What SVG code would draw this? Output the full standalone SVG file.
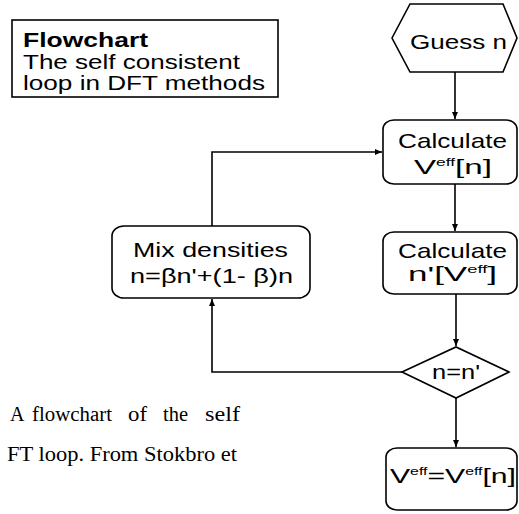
<svg xmlns="http://www.w3.org/2000/svg" width="519" height="514" viewBox="0 0 519 514">
<defs>
<marker id="ah" markerWidth="8" markerHeight="8" refX="7" refY="4" orient="auto" markerUnits="userSpaceOnUse">
<path d="M0,1 L7,4 L0,7 Z" fill="#000"/>
</marker>
<style>
.box{fill:#fff;stroke:#000;stroke-width:1.6}
.t{font-family:"Liberation Sans",Arial,sans-serif;font-size:21px;fill:#000}
.tt{font-family:"Liberation Sans",Arial,sans-serif;font-size:20px;fill:#000}
.b{font-weight:bold}
.cap{font-family:"Liberation Serif","Times New Roman",serif;font-size:20px;fill:#000}
.sup{font-size:11px}
.c{fill:none;stroke:#000;stroke-width:1.6}
</style>
</defs>
<rect width="519" height="514" fill="#fff"/>
<g id="title">
<rect class="box" x="12" y="20" width="266" height="77"/>
<text class="tt b" x="23" y="47" textLength="125" lengthAdjust="spacingAndGlyphs">Flowchart</text>
<text class="tt" x="23" y="69" textLength="217" lengthAdjust="spacingAndGlyphs">The self consistent</text>
<text class="tt" x="23" y="90" textLength="242" lengthAdjust="spacingAndGlyphs">loop in DFT methods</text>
</g>
<g id="guess">
<polygon class="box" points="392,38 410,4 503,4 517,38 503,72 410,72"/>
<text class="t" x="410" y="49" textLength="97" lengthAdjust="spacingAndGlyphs">Guess n</text>
</g>
<g id="calcV">
<rect class="box" x="383" y="120" width="134" height="64" rx="11" ry="9"/>
<text class="t" x="398" y="148" textLength="109" lengthAdjust="spacingAndGlyphs">Calculate</text>
<text class="t" x="414" y="174" textLength="78" lengthAdjust="spacingAndGlyphs">V<tspan class="sup" dy="-8">eff</tspan><tspan dy="8">[n]</tspan></text>
</g>
<g id="calcN">
<rect class="box" x="383" y="232" width="134" height="62" rx="11" ry="9"/>
<text class="t" x="398" y="258" textLength="109" lengthAdjust="spacingAndGlyphs">Calculate</text>
<text class="t" x="408" y="281" textLength="89" lengthAdjust="spacingAndGlyphs">n'[V<tspan class="sup" dy="-8">eff</tspan><tspan dy="8">]</tspan></text>
</g>
<g id="mix">
<rect class="box" x="112" y="226" width="198" height="72" rx="12" ry="10"/>
<text class="t" x="133" y="257" textLength="155" lengthAdjust="spacingAndGlyphs">Mix densities</text>
<text class="t" x="130" y="283" textLength="163" lengthAdjust="spacingAndGlyphs">n=βn'+(1- β)n</text>
</g>
<g id="check">
<polygon class="box" points="402,372 456,347 509,372 456,398"/>
<text class="t" x="432" y="379" font-size="19" textLength="48" lengthAdjust="spacingAndGlyphs">n=n'</text>
</g>
<g id="result">
<rect class="box" x="386" y="448" width="131" height="62" rx="11" ry="9"/>
<text class="t" x="390" y="483" textLength="126" lengthAdjust="spacingAndGlyphs">V<tspan class="sup" dy="-8">eff</tspan><tspan dy="8">=V</tspan><tspan class="sup" dy="-8">eff</tspan><tspan dy="8">[n]</tspan></text>
</g>
<g id="connectors">
<path class="c" d="M455,72 V119" marker-end="url(#ah)"/>
<path class="c" d="M455,184 V231" marker-end="url(#ah)"/>
<path class="c" d="M456,294 V346" marker-end="url(#ah)"/>
<path class="c" d="M402,372 H212 V299" marker-end="url(#ah)"/>
<path class="c" d="M212,226 V152 H382" marker-end="url(#ah)"/>
<path class="c" d="M456,398 V447" marker-end="url(#ah)"/>
</g>
<g id="caption">
<text class="cap" x="10" y="421">A</text>
<text class="cap" x="32" y="421" textLength="80" lengthAdjust="spacingAndGlyphs">flowchart</text>
<text class="cap" x="128" y="421" textLength="19" lengthAdjust="spacingAndGlyphs">of</text>
<text class="cap" x="163" y="421" textLength="25" lengthAdjust="spacingAndGlyphs">the</text>
<text class="cap" x="205" y="421" textLength="35" lengthAdjust="spacingAndGlyphs">self</text>
<text class="cap" x="7" y="461" textLength="230" lengthAdjust="spacingAndGlyphs">FT loop. From Stokbro et</text>
</g>
</svg>
